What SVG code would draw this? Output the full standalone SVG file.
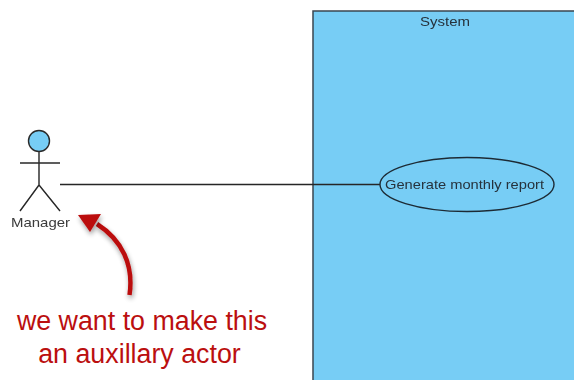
<svg xmlns="http://www.w3.org/2000/svg" width="574" height="380" viewBox="0 0 574 380">
<defs>
<filter id="sh" x="-50%" y="-50%" width="200%" height="200%"><feGaussianBlur in="SourceAlpha" stdDeviation="2.5"/><feOffset dx="1" dy="3"/><feComponentTransfer><feFuncA type="linear" slope="0.4"/></feComponentTransfer><feMerge><feMergeNode/><feMergeNode in="SourceGraphic"/></feMerge></filter>
<filter id="blur" filterUnits="userSpaceOnUse" x="0" y="0" width="574" height="380"><feGaussianBlur stdDeviation="0.4"/></filter>
</defs>
<style>
.t{font-family:"Liberation Sans",Arial,sans-serif;font-size:13.500px;fill:#26323c}
.l{fill:none;stroke:#262626;stroke-width:1.4}
.a{font-family:"Liberation Sans",Arial,sans-serif;font-size:26.800px;fill:#bb0f0f}
</style>
<rect width="574" height="380" fill="#fff"/>
<g id="system" filter="url(#blur)">
<rect x="313" y="11" width="270" height="380" fill="#77cdf5" stroke="#3a4650" stroke-width="1.5"/>
<text class="t" x="445" y="26" text-anchor="middle" textLength="50" lengthAdjust="spacingAndGlyphs">System</text>
</g>
<g id="connectors" filter="url(#blur)">
<path class="l" d="M60 184.500H380"/>
</g>
<g id="usecase" filter="url(#blur)">
<ellipse cx="467" cy="184.500" rx="87" ry="27" fill="#77cdf5" stroke="#1d2b35" stroke-width="1.4"/>
<text class="t" x="464.500" y="189" text-anchor="middle" textLength="159" lengthAdjust="spacingAndGlyphs">Generate monthly report</text>
</g>
<g id="manager" filter="url(#blur)">
<circle cx="39" cy="141" r="10.500" fill="#77cdf5" stroke="#2a2a2a" stroke-width="1.4"/>
<path class="l" d="M39 152V185M20 163H60M39 185L20 211M39 185L60 211"/>
<text class="t" x="40.500" y="227" text-anchor="middle" style="fill:#3a3a3a" textLength="59" lengthAdjust="spacingAndGlyphs">Manager</text>
</g>
<g id="annotation">
<path d="M129.500 295C134 265 122 240 97 224" fill="none" stroke="#bb0f0f" stroke-width="4.500" filter="url(#sh)"/>
<path d="M78 215L101 214L90 232Z" fill="#bb0f0f" filter="url(#sh)"/>
<text class="a" x="142" y="330" text-anchor="middle">we want to make this</text>
<text class="a" x="139.500" y="363" text-anchor="middle">an auxillary actor</text>
</g>
</svg>
